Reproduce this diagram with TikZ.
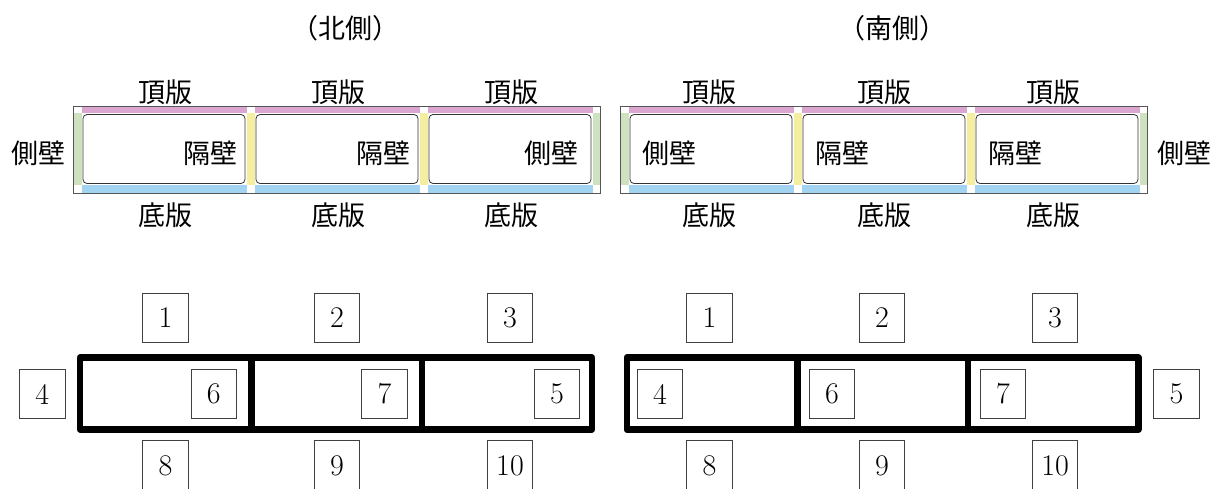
\documentclass[tikz,border=0pt]{standalone}
\usepackage{fontspec}
\newfontfamily\jpfont{Noto Sans CJK JP}

\definecolor{topband}{RGB}{218,166,208}
\definecolor{botband}{RGB}{162,211,240}
\definecolor{sideband}{RGB}{206,226,192}
\definecolor{midband}{RGB}{244,238,160}
\definecolor{frameline}{RGB}{85,85,85}

\begin{document}
\begin{tikzpicture}[
    x=0.5pt, y=-0.5pt,
    every node/.style={font=\jpfont\fontsize{13.5}{16}\selectfont, inner sep=0pt},
    numbox/.style={draw=black!75, thin, minimum width=22.8pt, minimum height=24.7pt,
                   font=\fontsize{15}{17}\selectfont},
    cellbox/.style={draw=black!80, fill=white, rounded corners=2pt},
    thickframe/.style={line width=3.2pt, line join=round}
]

\useasboundingbox (0,0) rectangle (1213,488);

% ============================================================
% Obere Reihe: Bauteile (Nordseite bei x=73.5, Suedseite bei x=620.5)
% ============================================================
\def\fw{527}   % Breite des Rahmens
\def\cw{165}   % Breite einer Zelle
\def\bw{8}     % Breite der Seitenstreifen

\foreach \px in {73.5,620.5} {
    % Streifen oben / unten und Zellen
    \foreach \i in {0,1,2} {
        \pgfmathsetmacro\cl{\px+\bw+\i*(\cw+\bw)}
        \fill[topband] (\cl,106.5) rectangle ++(\cw,6.5);
        \fill[botband] (\cl,185) rectangle ++(\cw,7.5);
        \draw[cellbox] (\cl+1.5,114.5) rectangle ++(\cw-3,69);
    }
    % Seitenwaende und Zwischenwaende
    \fill[sideband] (\px+0.5,113) rectangle ++(\bw-0.5,72);
    \fill[sideband] (\px+\fw-\bw,113) rectangle ++(\bw-0.5,72);
    \fill[midband] (\px+\bw+\cw,113) rectangle ++(\bw,72);
    \fill[midband] (\px+2*\bw+2*\cw,113) rectangle ++(\bw,72);
    % Rahmen
    \draw[frameline] (\px,106) rectangle ++(\fw,87);
}

% Ueberschriften
\node (titleN) at (345,28) {（北側）};
\node (titleS) at (892,28) {（南側）};

% Nordseite
\node (nTop1) at (165,92) {頂版};
\node (nTop2) at (338,92) {頂版};
\node (nTop3) at (511,92) {頂版};
\node (nBot1) at (165,215) {底版};
\node (nBot2) at (338,215) {底版};
\node (nBot3) at (511,215) {底版};
\node (nSide) at (38,153) {側壁};
\node[anchor=east] (nIn1) at (238,153) {隔壁};
\node[anchor=east] (nIn2) at (411,153) {隔壁};
\node[anchor=east] (nIn3) at (579,153) {側壁};

% Suedseite
\node (sTop1) at (709,92) {頂版};
\node (sTop2) at (884,92) {頂版};
\node (sTop3) at (1053,92) {頂版};
\node (sBot1) at (709,215) {底版};
\node (sBot2) at (884,215) {底版};
\node (sBot3) at (1053,215) {底版};
\node (sSide) at (1184,153) {側壁};
\node[anchor=west] (sIn1) at (642,153) {側壁};
\node[anchor=west] (sIn2) at (815,153) {隔壁};
\node[anchor=west] (sIn3) at (988,153) {隔壁};

% ============================================================
% Untere Reihe: Nummerierung der Bauteile
% ============================================================
\draw[thickframe] (80,357.5) rectangle (592,429.5);
\foreach \dx in {251.5,422} \draw[thickframe] (\dx,357.5) -- (\dx,429.5);

\draw[thickframe] (626.7,357.5) rectangle (1138.3,429.5);
\foreach \dx in {797.5,968} \draw[thickframe] (\dx,357.5) -- (\dx,429.5);

% Nordseite
\node[numbox] (nA1) at (165.5,318) {1};
\node[numbox] (nA2) at (337,318) {2};
\node[numbox] (nA3) at (510,318) {3};
\node[numbox] (nA4) at (42.2,394) {4};
\node[numbox] (nA6) at (213.7,394) {6};
\node[numbox] (nA7) at (384.5,394) {7};
\node[numbox] (nA5) at (557,394) {5};
\node[numbox] (nA8) at (165.5,465.5) {8};
\node[numbox] (nA9) at (337,465.5) {9};
\node[numbox] (nA10) at (510,465.5) {10};

% Suedseite
\node[numbox] (sA1) at (709.5,318) {1};
\node[numbox] (sA2) at (882,318) {2};
\node[numbox] (sA3) at (1055,318) {3};
\node[numbox] (sA4) at (660,394) {4};
\node[numbox] (sA6) at (832,394) {6};
\node[numbox] (sA7) at (1003,394) {7};
\node[numbox] (sA5) at (1176.5,394) {5};
\node[numbox] (sA8) at (709.5,465.5) {8};
\node[numbox] (sA9) at (882,465.5) {9};
\node[numbox] (sA10) at (1055,465.5) {10};

\end{tikzpicture}
\end{document}
